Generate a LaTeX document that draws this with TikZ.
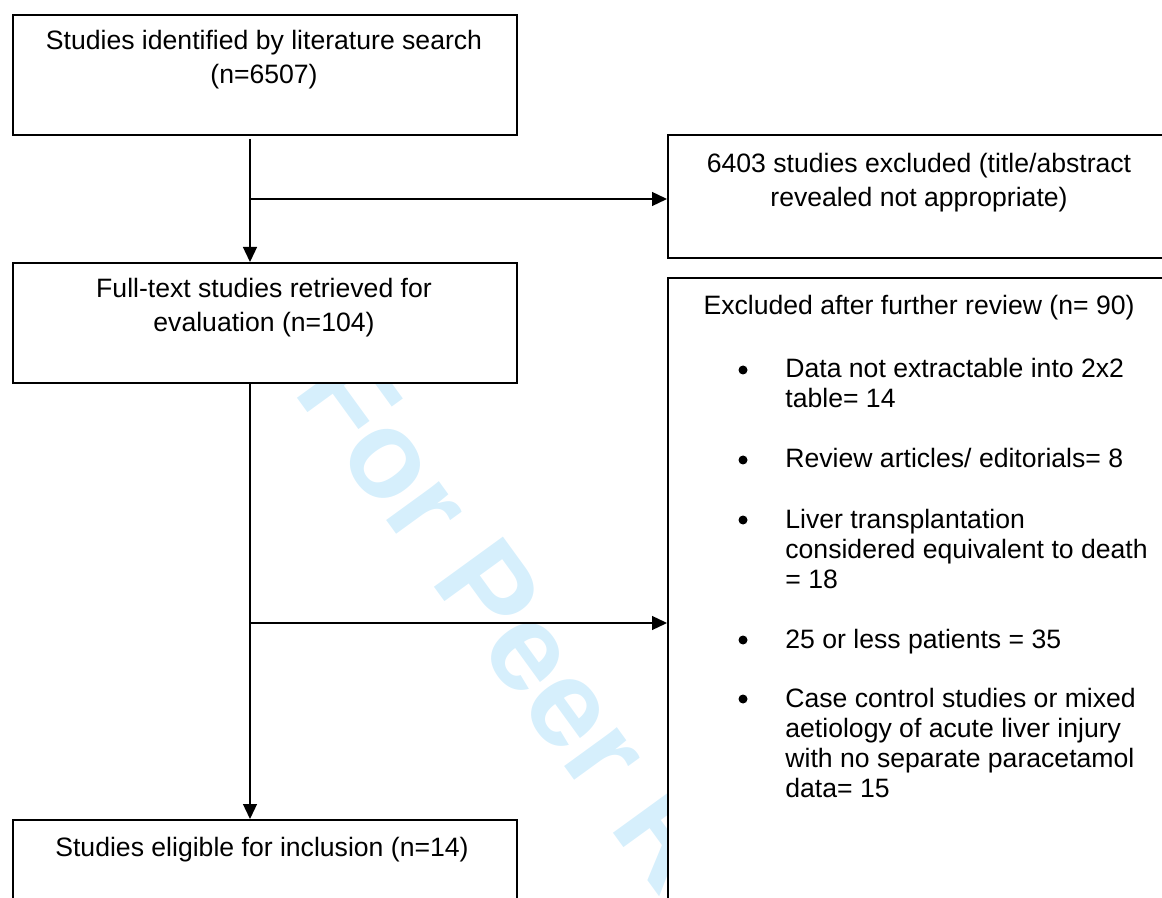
\documentclass[tikz,border=0pt]{standalone}
\usepackage{fontspec}
\setmainfont{Liberation Sans}
\usetikzlibrary{arrows.meta}
\definecolor{wmcyan}{RGB}{214,239,252}
\begin{document}
\begin{tikzpicture}[x=0.5pt,y=-0.5pt,
  box/.style={draw, line width=1pt, fill=white, inner sep=0pt, anchor=north west},
  conn/.style={line width=0.65pt, -{Triangle[length=7.5pt,width=7pt]}},
  txt/.style={inner sep=0pt, font=\fontsize{13.3pt}{16pt}\selectfont},
  ctxt/.style={txt, anchor=base},
  ltxt/.style={txt, anchor=base west},
  bul/.style={circle, fill, inner sep=0pt, minimum size=4.5pt},
  wm/.style={inner sep=0pt, anchor=base west, rotate=-54, text=wmcyan,
    font=\fontsize{62pt}{62pt}\selectfont\bfseries}]
\useasboundingbox (0,0) rectangle (1162,898);
\clip (0,0) rectangle (1162,898);
% watermark (behind the boxes)
\node[wm] (wmark) at (292,391) {For Peer Review};
% boxes
\node[box, minimum width=252pt, minimum height=60pt] (b1) at (12,14) {};
\node[box, minimum width=252pt, minimum height=60pt] (b2) at (12,262) {};
\node[box, minimum width=252pt, minimum height=60pt] (b3) at (12,819) {};
\node[box, minimum width=252.5pt, minimum height=61.5pt] (r1) at (667,134) {};
\node[box, minimum width=252.5pt, minimum height=330pt] (r2) at (667,277) {};
% connectors
\coordinate (sx) at (250,0);
\coordinate (j1) at (250,199);
\coordinate (j2) at (250,623);
\draw[conn, shorten <=1.5pt] (b1.south -| sx) -- (b2.north -| sx);
\draw[conn] (j1) -- (j1 -| r1.west);
\draw[conn] (b2.south -| sx) -- (b3.north -| sx);
\draw[conn] (j2) -- (j2 -| r2.west);
% left texts
\node[ctxt] (t1a) at (264,50) {Studies identified by literature search};
\node[ctxt] (t1b) at (264,84) {(n=6507)};
\node[ctxt] (t2a) at (264,298) {Full-text studies retrieved for};
\node[ctxt] (t2b) at (264,332) {evaluation (n=104)};
\node[ctxt] (t3a) at (262,856) {Studies eligible for inclusion (n=14)};
% right texts
\node[ctxt] (s1a) at (919,173) {6403 studies excluded (title/abstract};
\node[ctxt] (s1b) at (919,207) {revealed not appropriate)};
\node[ctxt] (s2h) at (919,315) {Excluded after further review (n= 90)};
% bullets
\node[bul] (d1) at (743,370) {};
\node[ltxt] (i1a) at (785,378) {Data not extractable into 2x2};
\node[ltxt] (i1b) at (785,408) {table= 14};
\node[bul] (d2) at (743,460) {};
\node[ltxt] (i2a) at (785,468) {Review articles/ editorials= 8};
\node[bul] (d3) at (743,520) {};
\node[ltxt] (i3a) at (785,528) {Liver transplantation};
\node[ltxt] (i3b) at (785,558) {considered equivalent to death};
\node[ltxt] (i3c) at (785,588) {= 18};
\node[bul] (d4) at (743,640) {};
\node[ltxt] (i4a) at (785,648) {25 or less patients = 35};
\node[bul] (d5) at (743,699) {};
\node[ltxt] (i5a) at (785,707) {Case control studies or mixed};
\node[ltxt] (i5b) at (785,737) {aetiology of acute liver injury};
\node[ltxt] (i5c) at (785,767) {with no separate paracetamol};
\node[ltxt] (i5d) at (785,797) {data= 15};
\end{tikzpicture}
\end{document}
